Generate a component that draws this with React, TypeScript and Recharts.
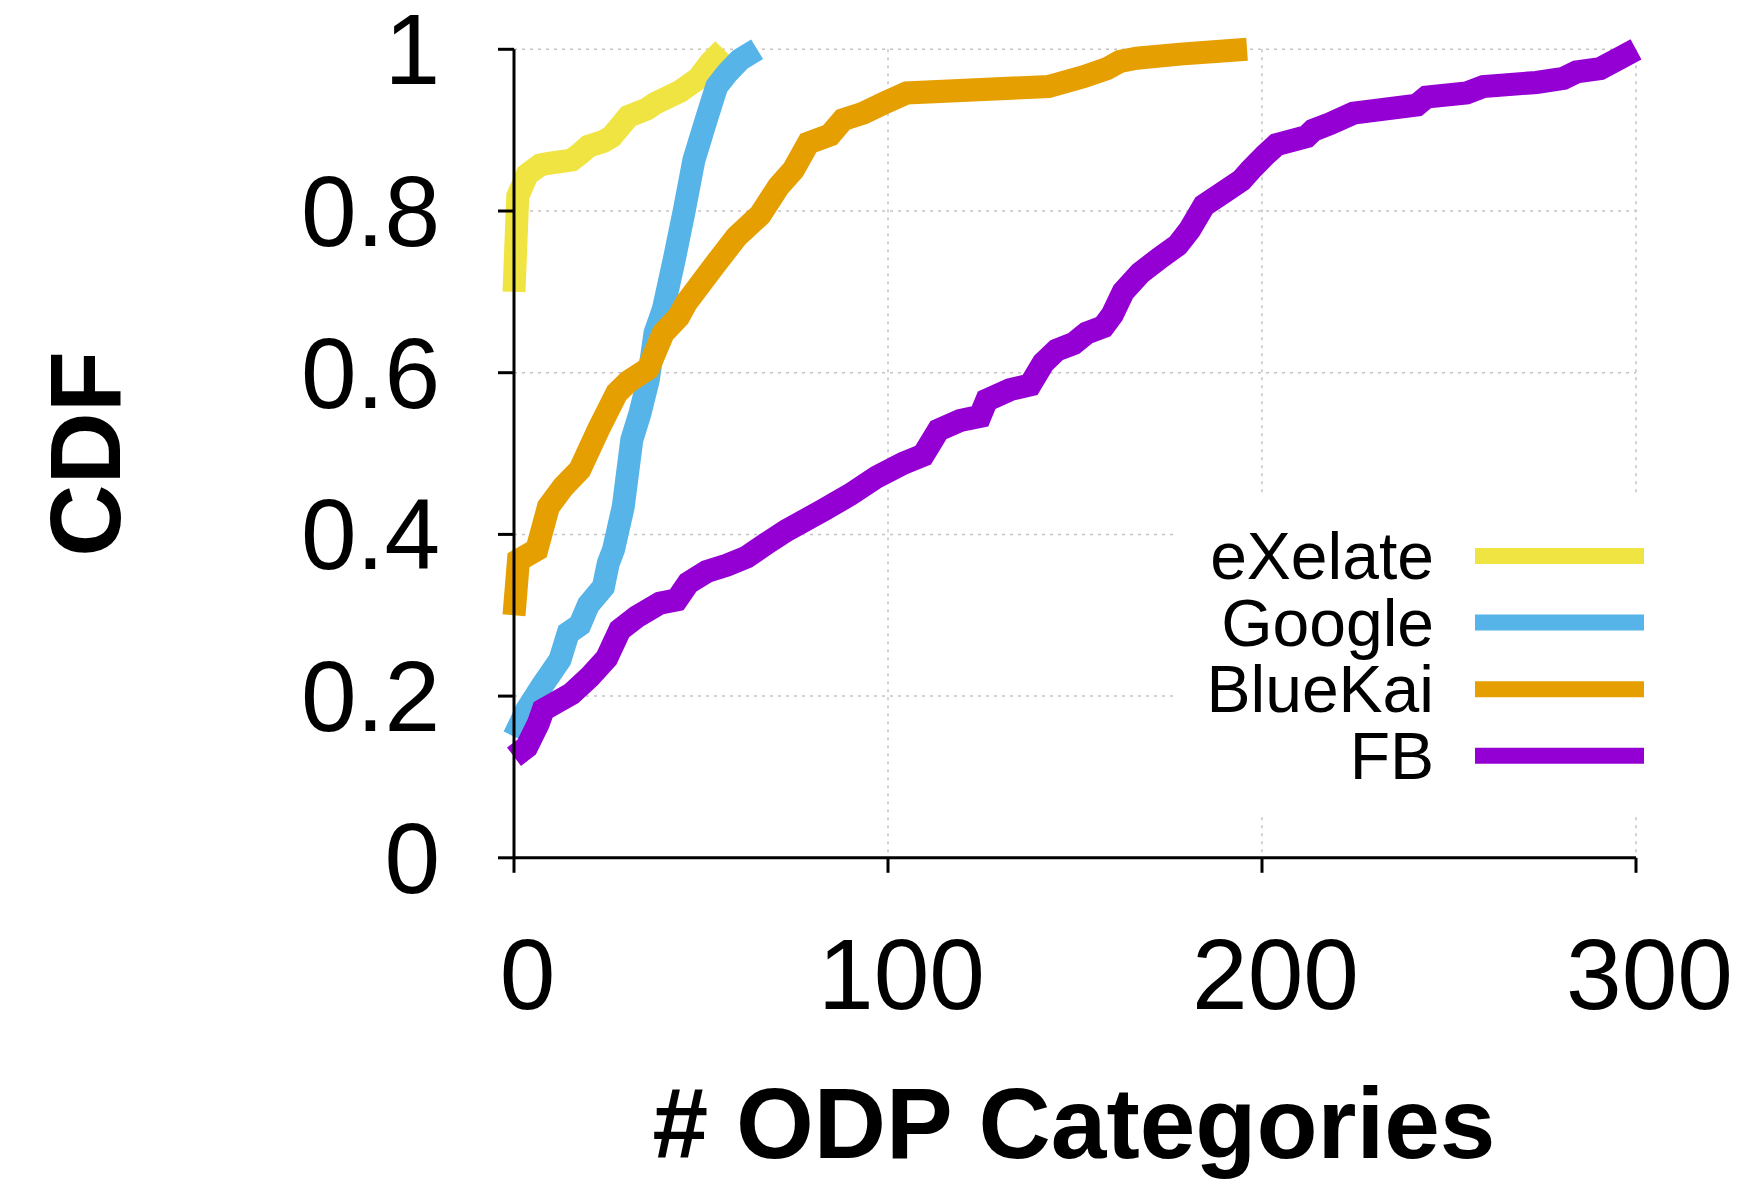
import React from "react";
import { LineChart, Line, XAxis, YAxis, CartesianGrid, Legend, Label } from "recharts";

// ---- data ----
const X_TICKS = [0, 100, 200, 300];
const Y_TICKS = [0, 0.2, 0.4, 0.6, 0.8, 1];
const X_LABEL = "# ODP Categories";
const Y_LABEL = "CDF";

const exelate = [
  { x: 0, y: 0.7 }, { x: 1, y: 0.818 }, { x: 3.5, y: 0.845 }, { x: 7, y: 0.857 },
  { x: 9.2, y: 0.859 }, { x: 15.4, y: 0.863 }, { x: 17.7, y: 0.871 }, { x: 19.9, y: 0.88 },
  { x: 23.9, y: 0.886 }, { x: 26.1, y: 0.892 }, { x: 28.3, y: 0.904 }, { x: 30.6, y: 0.917 },
  { x: 35.5, y: 0.926 }, { x: 37.7, y: 0.933 }, { x: 44.4, y: 0.948 }, { x: 49.3, y: 0.964 },
  { x: 52.4, y: 0.983 }, { x: 56, y: 1.0 },
];

const google = [
  { x: 0, y: 0.15 }, { x: 3.4, y: 0.183 }, { x: 7.4, y: 0.212 }, { x: 12.3, y: 0.245 },
  { x: 14.5, y: 0.278 }, { x: 17.6, y: 0.288 }, { x: 19.9, y: 0.313 }, { x: 23.9, y: 0.335 },
  { x: 25.2, y: 0.364 }, { x: 26.6, y: 0.381 }, { x: 29.2, y: 0.434 }, { x: 31.5, y: 0.517 },
  { x: 33.7, y: 0.55 }, { x: 35.9, y: 0.591 }, { x: 37.7, y: 0.649 }, { x: 39.9, y: 0.678 },
  { x: 42.8, y: 0.739 }, { x: 45.5, y: 0.8 }, { x: 48.1, y: 0.863 }, { x: 51.4, y: 0.913 },
  { x: 54.2, y: 0.954 }, { x: 56.9, y: 0.97 }, { x: 60.4, y: 0.987 }, { x: 65, y: 1.0 },
];

const bluekai = [
  { x: 0, y: 0.3 }, { x: 1.2, y: 0.368 }, { x: 6.1, y: 0.381 }, { x: 9.2, y: 0.434 },
  { x: 13.2, y: 0.459 }, { x: 17.6, y: 0.48 }, { x: 22.5, y: 0.529 }, { x: 27.5, y: 0.575 },
  { x: 30.6, y: 0.589 }, { x: 35.9, y: 0.605 }, { x: 39.9, y: 0.649 }, { x: 44, y: 0.669 },
  { x: 46, y: 0.686 }, { x: 53.3, y: 0.731 }, { x: 59.5, y: 0.768 }, { x: 65.8, y: 0.795 },
  { x: 70.7, y: 0.83 }, { x: 74.7, y: 0.851 }, { x: 78.7, y: 0.884 }, { x: 84.5, y: 0.894 },
  { x: 88, y: 0.913 }, { x: 93.4, y: 0.921 }, { x: 99.6, y: 0.935 }, { x: 105, y: 0.946 },
  { x: 142.9, y: 0.954 }, { x: 152.2, y: 0.966 }, { x: 158.5, y: 0.976 }, { x: 162, y: 0.985 },
  { x: 166.5, y: 0.989 }, { x: 178.1, y: 0.994 }, { x: 196, y: 1.0 },
];

const fb = [
  { x: 0, y: 0.125 }, { x: 3.4, y: 0.137 }, { x: 6.5, y: 0.166 }, { x: 7.8, y: 0.183 },
  { x: 15.4, y: 0.203 }, { x: 20.3, y: 0.224 }, { x: 24.8, y: 0.247 }, { x: 28.3, y: 0.282 },
  { x: 32.8, y: 0.298 }, { x: 39, y: 0.315 }, { x: 43.5, y: 0.319 }, { x: 46.6, y: 0.34 },
  { x: 51.5, y: 0.354 }, { x: 56.9, y: 0.362 }, { x: 62.2, y: 0.372 }, { x: 67.6, y: 0.389 },
  { x: 72.9, y: 0.405 }, { x: 82.7, y: 0.43 }, { x: 89.8, y: 0.449 }, { x: 97, y: 0.471 },
  { x: 104.1, y: 0.488 }, { x: 109.4, y: 0.498 }, { x: 113.5, y: 0.529 }, { x: 119.3, y: 0.541 },
  { x: 124.6, y: 0.546 }, { x: 126.4, y: 0.566 }, { x: 132.6, y: 0.579 }, { x: 138, y: 0.585 },
  { x: 141.5, y: 0.612 }, { x: 145.1, y: 0.628 }, { x: 149.6, y: 0.636 }, { x: 153.1, y: 0.649 },
  { x: 157.6, y: 0.657 }, { x: 160, y: 0.672 }, { x: 162.9, y: 0.7 }, { x: 167.4, y: 0.723 },
  { x: 172.7, y: 0.742 }, { x: 177.5, y: 0.758 }, { x: 180.7, y: 0.777 }, { x: 184.5, y: 0.807 },
  { x: 190, y: 0.824 }, { x: 194.5, y: 0.838 }, { x: 196.8, y: 0.85 }, { x: 200.8, y: 0.869 },
  { x: 203.9, y: 0.882 }, { x: 211.9, y: 0.892 }, { x: 213.7, y: 0.9 }, { x: 218.2, y: 0.908 },
  { x: 224.4, y: 0.921 }, { x: 241.4, y: 0.931 }, { x: 244, y: 0.941 }, { x: 254.7, y: 0.946 },
  { x: 259.2, y: 0.954 }, { x: 273.4, y: 0.959 }, { x: 280.6, y: 0.964 }, { x: 284.1, y: 0.972 },
  { x: 290.4, y: 0.976 }, { x: 294.8, y: 0.987 }, { x: 300, y: 1.0 },
];

const SERIES = [
  { name: "eXelate", color: "#F0E442", data: exelate },
  { name: "Google", color: "#56B4E9", data: google },
  { name: "BlueKai", color: "#E69F00", data: bluekai },
  { name: "FB", color: "#9400D3", data: fb },
];

// ---- layout ----
const W = 1754;
const H = 1171;
const FONT = "'Liberation Sans', Arial, Helvetica, sans-serif";

const YTick = (props: any) => {
  const { x, y, payload } = props;
  return (
    <text x={x} y={y} dy={35} textAnchor="end" fontSize={100} fontFamily={FONT} fill="#000">
      {String(payload.value)}
    </text>
  );
};

const XTick = (props: any) => {
  const { x, y, payload } = props;
  return (
    <text x={x + 13.5} y={y} dy={136} textAnchor="middle" fontSize={100} fontFamily={FONT} fill="#000">
      {String(payload.value)}
    </text>
  );
};

const XTitle = () => (
  <text x={1066} y={1150} textAnchor="middle" fontSize={100} fontWeight="bold" fontFamily={FONT} fill="#000">
    {X_LABEL}
  </text>
);

const YTitle = () => (
  <text
    x={112}
    y={446}
    transform="rotate(-90, 112, 446)"
    textAnchor="middle"
    fontSize={100}
    fontWeight="bold"
    fontFamily={FONT}
    fill="#000"
  >
    {Y_LABEL}
  </text>
);

const LegendBox = () => (
  <svg width={490} height={320} style={{ display: "block" }}>
    {SERIES.map((s, i) => {
      const cy = 63 + i * 66.6;
      return (
        <g key={s.name}>
          <text x={261} y={cy + 23} textAnchor="end" fontSize={66} fontFamily={FONT} fill="#000">
            {s.name}
          </text>
          <line x1={302} x2={471} y1={cy} y2={cy} stroke={s.color} strokeWidth={16} />
        </g>
      );
    })}
  </svg>
);

export default function App() {
  return (
    <LineChart
      width={W}
      height={H}
      margin={{ top: 41.3, right: 126, bottom: 261.2, left: 426 }}
      style={{ background: "#fff" }}
    >
      <CartesianGrid stroke="#c4c4c4" strokeWidth={1.5} strokeDasharray="3 5" />
      <XAxis
        dataKey="x"
        type="number"
        domain={[0, 300]}
        ticks={X_TICKS}
        height={60}
        tickSize={15}
        tickMargin={0}
        axisLine={{ stroke: "#000", strokeWidth: 3 }}
        tickLine={{ stroke: "#000", strokeWidth: 3 }}
        tick={<XTick />}
        interval={0}
      >
        <Label content={<XTitle />} />
      </XAxis>
      <YAxis
        type="number"
        domain={[0, 1]}
        ticks={Y_TICKS}
        width={80}
        tickSize={16}
        tickMargin={58}
        axisLine={{ stroke: "#000", strokeWidth: 3 }}
        tickLine={{ stroke: "#000", strokeWidth: 3 }}
        tick={<YTick />}
        interval={0}
      >
        <Label content={<YTitle />} />
      </YAxis>
      {SERIES.map((s) => (
        <Line
          key={s.name}
          data={s.data}
          dataKey="y"
          name={s.name}
          type="linear"
          stroke={s.color}
          strokeWidth={23}
          strokeLinecap="butt"
          strokeLinejoin="miter"
          dot={false}
          activeDot={false}
          isAnimationActive={false}
        />
      ))}
      <Legend
        layout="vertical"
        align="center"
        verticalAlign="middle"
        content={<LegendBox />}
        wrapperStyle={{
          position: "absolute",
          left: 1165,
          top: 485,
          width: 490,
          height: 320,
          background: "#fff",
          margin: 0,
          padding: 0,
        }}
      />
    </LineChart>
  );
}
